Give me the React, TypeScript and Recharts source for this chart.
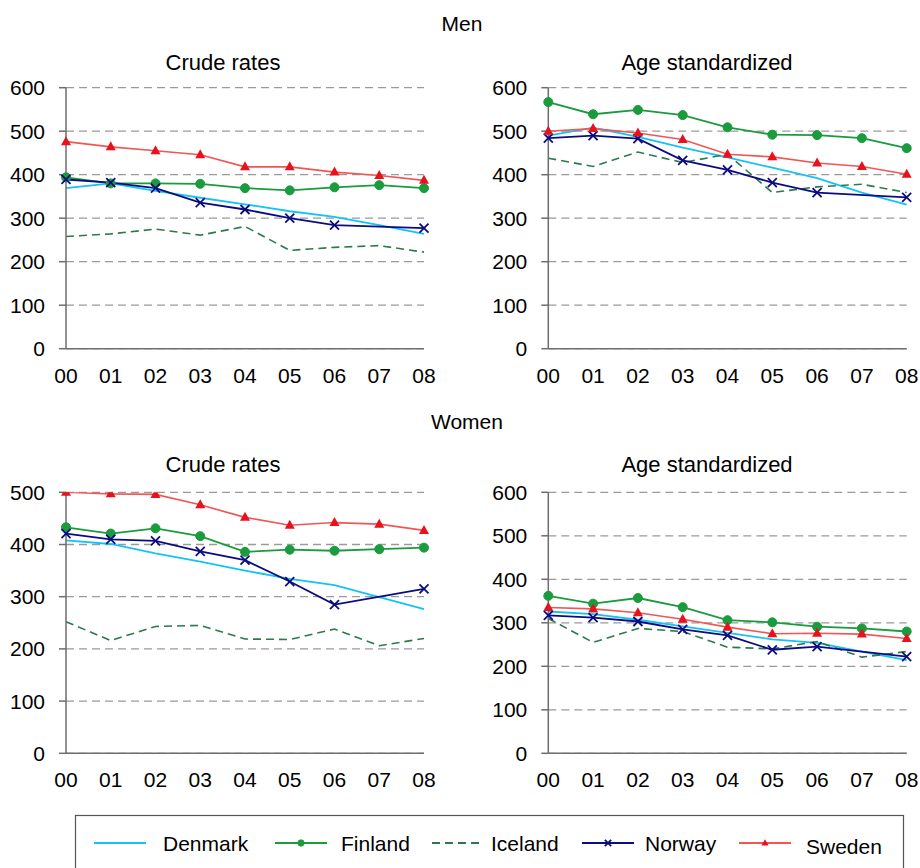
import React from 'react';
import { LineChart, Line, XAxis, YAxis, CartesianGrid } from 'recharts';

// ---------- DATA ----------
const years = ['00', '01', '02', '03', '04', '05', '06', '07', '08'];
const countries = ['Denmark', 'Finland', 'Iceland', 'Norway', 'Sweden'];

// Men, crude rates
const menCrudeDenmark = [369, 380, 363, 347, 332, 316, 303, 284, 264];
const menCrudeFinland = [394, 380, 380, 379, 369, 364, 371, 376, 369];
const menCrudeIceland = [258, 264, 275, 261, 281, 226, 233, 237, 222];
const menCrudeNorway = [389, 382, 369, 336, 320, 300, 284, null, 277];
const menCrudeSweden = [476, 464, 455, 446, 418, 418, 406, 398, 387];

// Men, age standardized
const menAgeDenmark = [490, 508, 487, 462, 440, 416, 392, 359, 331];
const menAgeFinland = [567, 539, 549, 537, 509, 492, 491, 484, 461];
const menAgeIceland = [438, 419, 452, 428, 447, 359, 372, 378, 359];
const menAgeNorway = [484, 490, 483, 433, 411, 382, 359, null, 348];
const menAgeSweden = [500, 506, 496, 481, 447, 441, 427, 419, 401];

// Women, crude rates
const womenCrudeDenmark = [408, 401, 383, 367, 350, 334, 322, 299, 276];
const womenCrudeFinland = [433, 421, 431, 416, 386, 390, 388, 391, 394];
const womenCrudeIceland = [252, 216, 243, 245, 219, 218, 238, 206, 220];
const womenCrudeNorway = [421, 410, 407, 387, 370, 329, 285, null, 315];
const womenCrudeSweden = [500, 497, 496, 476, 452, 437, 442, 439, 427];

// Women, age standardized
const womenAgeDenmark = [326, 320, 307, 292, 277, 262, 254, 234, 214];
const womenAgeFinland = [362, 344, 357, 336, 306, 301, 291, 287, 280];
const womenAgeIceland = [310, 255, 287, 280, 244, 240, 257, 221, 234];
const womenAgeNorway = [317, 312, 303, 285, 271, 238, 245, null, 222];
const womenAgeSweden = [335, 332, 323, 308, 290, 275, 276, 274, 264];

const ticks600 = [0, 100, 200, 300, 400, 500, 600];
const ticks500 = [0, 100, 200, 300, 400, 500];

const buildRows = (series: (number | null)[][]) =>
  years.map((y, i) => {
    const row: Record<string, string | number | null> = { year: y };
    countries.forEach((c, k) => {
      row[c] = series[k][i];
    });
    return row;
  });

// ---------- STYLE ----------
const FONT = '"Liberation Sans", Arial, Helvetica, sans-serif';
const COLORS: Record<string, string> = {
  Denmark: '#14c3f5',
  Finland: '#1a9b3d',
  Iceland: '#2b7a4c',
  Norway: '#0c0c80',
  Sweden: '#f05656',
};
const SWEDEN_MARK = '#e8121c';

type Shape = (cx: number, cy: number, key?: any, s?: number) => React.ReactElement;

const circleShape: Shape = (cx, cy, key, s = 1) => (
  <circle key={key} cx={cx} cy={cy} r={4.5 * s} fill={COLORS.Finland} stroke={COLORS.Finland} />
);
const crossShape: Shape = (cx, cy, key, s = 1) => {
  const d = 4.5 * s;
  return (
    <g key={key}>
      <line x1={cx - d} y1={cy - d} x2={cx + d} y2={cy + d} stroke={COLORS.Norway} strokeWidth={1.8} />
      <line x1={cx - d} y1={cy + d} x2={cx + d} y2={cy - d} stroke={COLORS.Norway} strokeWidth={1.8} />
    </g>
  );
};
const triShape: Shape = (cx, cy, key, s = 1) => (
  <polygon
    key={key}
    points={`${cx},${cy - 5.5 * s} ${cx - 5 * s},${cy + 3.5 * s} ${cx + 5 * s},${cy + 3.5 * s}`}
    fill={SWEDEN_MARK}
  />
);

const dotFn = (shape: Shape) => (p: any) => {
  if (p == null || p.cx == null || p.cy == null || p.value == null) return <g key={`e-${p?.index}`} />;
  return shape(p.cx, p.cy, `d-${p.index}`);
};

type Panel = {
  rows: Record<string, string | number | null>[];
  ticks: number[];
  left: number;
  top: number;
  width: number;
  marginTop: number;
  marginRight: number;
  yWidth: number;
};

const PLOT_H = 261;
const CHART_H = 340;

const panels: Panel[] = [
  {
    rows: buildRows([menCrudeDenmark, menCrudeFinland, menCrudeIceland, menCrudeNorway, menCrudeSweden]),
    ticks: ticks600,
    left: 0,
    top: 70,
    width: 440,
    marginTop: 17.7,
    marginRight: 16,
    yWidth: 66,
  },
  {
    rows: buildRows([menAgeDenmark, menAgeFinland, menAgeIceland, menAgeNorway, menAgeSweden]),
    ticks: ticks600,
    left: 460,
    top: 70,
    width: 460,
    marginTop: 17.7,
    marginRight: 13.3,
    yWidth: 88.3,
  },
  {
    rows: buildRows([womenCrudeDenmark, womenCrudeFinland, womenCrudeIceland, womenCrudeNorway, womenCrudeSweden]),
    ticks: ticks500,
    left: 0,
    top: 470,
    width: 440,
    marginTop: 22.3,
    marginRight: 16,
    yWidth: 66,
  },
  {
    rows: buildRows([womenAgeDenmark, womenAgeFinland, womenAgeIceland, womenAgeNorway, womenAgeSweden]),
    ticks: ticks600,
    left: 460,
    top: 470,
    width: 460,
    marginTop: 22.3,
    marginRight: 13.3,
    yWidth: 88.3,
  },
];

const tickStyle = { fontSize: 21, fill: '#000', fontFamily: FONT };
const AXIS = '#6e6e6e';

function PanelChart({ p }: { p: Panel }) {
  const max = p.ticks[p.ticks.length - 1];
  return (
    <div style={{ position: 'absolute', left: p.left, top: p.top }}>
      <LineChart
        width={p.width}
        height={CHART_H}
        data={p.rows}
        margin={{ top: p.marginTop, right: p.marginRight, left: 0, bottom: 0 }}
      >
        <CartesianGrid vertical={false} stroke="#9a9a9a" strokeDasharray="8 5" strokeWidth={1.3} />
        <XAxis
          dataKey="year"
          height={CHART_H - p.marginTop - PLOT_H}
          tick={tickStyle}
          tickLine={false}
          tickSize={6}
          tickMargin={13}
          stroke={AXIS}
          strokeWidth={1.5}
          interval={0}
        />
        <YAxis
          width={p.yWidth}
          domain={[0, max]}
          ticks={p.ticks}
          tick={tickStyle}
          tickSize={7}
          tickMargin={14}
          stroke={AXIS}
          strokeWidth={1.5}
          allowDataOverflow
        />
        <Line dataKey="Denmark" stroke={COLORS.Denmark} strokeWidth={1.8} dot={false} isAnimationActive={false} />
        <Line
          dataKey="Finland"
          stroke={COLORS.Finland}
          strokeWidth={1.8}
          dot={dotFn(circleShape)}
          activeDot={false}
          isAnimationActive={false}
        />
        <Line
          dataKey="Iceland"
          stroke={COLORS.Iceland}
          strokeWidth={1.6}
          strokeDasharray="8 5"
          dot={false}
          isAnimationActive={false}
        />
        <Line
          dataKey="Norway"
          stroke={COLORS.Norway}
          strokeWidth={1.8}
          connectNulls
          dot={dotFn(crossShape)}
          activeDot={false}
          isAnimationActive={false}
        />
        <Line
          dataKey="Sweden"
          stroke={COLORS.Sweden}
          strokeWidth={1.6}
          dot={dotFn(triShape)}
          activeDot={false}
          isAnimationActive={false}
        />
      </LineChart>
    </div>
  );
}

const legendItems = [
  { name: 'Denmark', x1: 94, textX: 163, marker: null as Shape | null, dash: undefined as string | undefined },
  { name: 'Finland', x1: 275, textX: 341, marker: circleShape, dash: undefined },
  { name: 'Iceland', x1: 432, textX: 491, marker: null, dash: '8 5' },
  { name: 'Norway', x1: 582, textX: 645, marker: crossShape, dash: undefined },
  { name: 'Sweden', x1: 739, textX: 806, marker: triShape, dash: undefined },
];

export default function App() {
  const ly = 843;
  return (
    <div
      style={{
        position: 'absolute',
        left: 0,
        top: 0,
        width: 920,
        height: 868,
        overflow: 'hidden',
        background: '#fff',
        fontFamily: FONT,
      }}
    >
      {panels.map((p, i) => (
        <PanelChart key={i} p={p} />
      ))}
      <svg
        width={920}
        height={868}
        style={{ position: 'absolute', left: 0, top: 0, pointerEvents: 'none' }}
        fontFamily={FONT}
      >
        <text x={462} y={24} dy="0.35em" textAnchor="middle" fontSize={21} fill="#000">Men</text>
        <text x={223} y={62} dy="0.35em" textAnchor="middle" fontSize={22} fill="#000">Crude rates</text>
        <text x={707} y={62} dy="0.35em" textAnchor="middle" fontSize={22} fill="#000">Age standardized</text>
        <text x={467} y={422} dy="0.35em" textAnchor="middle" fontSize={21} fill="#000">Women</text>
        <text x={223} y={464} dy="0.35em" textAnchor="middle" fontSize={22} fill="#000">Crude rates</text>
        <text x={707} y={464} dy="0.35em" textAnchor="middle" fontSize={22} fill="#000">Age standardized</text>

        <rect x={75.5} y={815.5} width={828} height={70} fill="none" stroke="#555" strokeWidth={1.2} />
        {legendItems.map((it) => (
          <g key={it.name}>
            <line
              x1={it.x1}
              x2={it.x1 + 52}
              y1={ly}
              y2={ly}
              stroke={COLORS[it.name]}
              strokeWidth={1.8}
              strokeDasharray={it.dash}
            />
            {it.marker ? it.marker(it.x1 + 26, ly, undefined, 0.7) : null}
            <text x={it.textX} y={it.name === 'Sweden' ? 847 : 844} dy="0.35em" fontSize={21} fill="#000">
              {it.name}
            </text>
          </g>
        ))}
      </svg>
    </div>
  );
}
